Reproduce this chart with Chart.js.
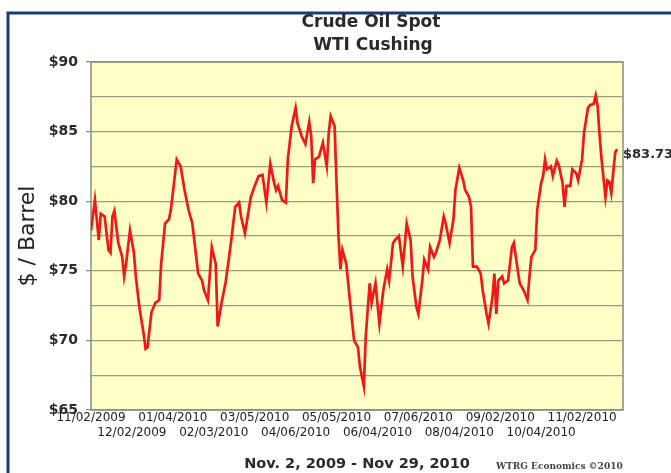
<!DOCTYPE html>
<html>
<head>
<meta charset="utf-8">
<script src="https://cdn.jsdelivr.net/npm/chart.js@4.4.0/dist/chart.umd.min.js"></script>
<style>
  html, body { margin: 0; padding: 0; background: #fff; }
</style>
</head>
<body>
<canvas id="oilChart" width="671" height="473"></canvas>
<script>
// trading day index (0 = 11/02/2009, 270 = 11/29/2010) and spot price
const tradeDay = [
    0, 2, 4, 5, 7, 9, 10, 11, 12, 14, 16, 17, 18, 20, 22, 23, 25, 27, 28, 29,
    31, 33, 35, 36, 38, 40, 41, 43, 44, 46, 48, 50, 52, 53, 55, 57, 58, 60, 62, 64,
    65, 67, 69, 70, 72, 74, 76, 77, 79, 81, 82, 84, 86, 88, 90, 92,
    94, 95, 96, 98, 100, 101, 103, 105, 106, 108, 110, 112, 113, 114, 115, 117, 119, 121, 122, 123,
    125, 126, 127, 128, 129, 131, 133, 135, 137, 138, 140, 141, 143, 144, 146, 148, 150, 152, 153, 155,
    156, 158, 160, 162, 164, 165, 167, 168, 170, 171, 173, 174, 176, 177, 179, 181, 182,
    184, 186, 187, 189, 191, 192, 194, 195, 196, 198, 200, 201, 203, 204, 206, 207, 208, 209, 211, 212,
    214, 216, 217, 218, 220, 222, 224, 225, 226, 228, 229, 231, 232, 233, 234, 236, 237, 239, 240, 242,
    243, 244, 246, 247, 249, 250, 252, 253, 255, 256, 258, 259, 260, 261, 262, 264, 265, 266, 267, 269,
    270
];
const spotPrice = [
    77.9, 80.1, 77.2, 79.1, 78.9, 76.5, 76.3, 78.9, 79.3, 77.0, 76.0, 74.6, 75.5, 77.9, 76.3, 74.6, 72.2, 70.5, 69.4, 69.5,
    72.0, 72.7, 72.9, 75.5, 78.4, 78.7, 79.4, 81.8, 83.0, 82.5, 80.8, 79.4, 78.4, 77.2, 74.8, 74.3, 73.6, 72.9, 76.7, 75.5,
    71.0, 72.7, 74.1, 75.1, 77.2, 79.6, 79.9, 78.9, 77.7, 79.4, 80.3, 81.1, 81.8, 81.9, 79.9, 82.7,
    81.3, 80.8, 81.1, 80.1, 79.9, 83.0, 85.4, 86.7, 85.6, 84.7, 84.1, 85.7, 84.7, 81.3, 83.0, 83.2, 84.2, 82.5, 84.9, 86.1,
    85.4, 81.3, 77.5, 75.1, 76.5, 75.5, 72.7, 70.0, 69.5, 68.1, 66.7, 70.3, 74.1, 72.7, 74.1, 71.2, 73.6, 75.1, 74.3, 77.0,
    77.2, 77.5, 75.3, 78.4, 77.2, 74.6, 72.4, 71.9, 74.3, 75.8, 75.1, 76.7, 76.0, 76.3, 77.2, 78.9, 78.4,
    77.0, 78.7, 80.8, 82.4, 81.5, 80.8, 80.3, 79.6, 75.3, 75.3, 74.8, 73.6, 71.9, 71.2, 73.1, 74.8, 71.9, 74.3, 74.6, 74.1,
    74.3, 76.7, 77.0, 76.0, 74.1, 73.6, 72.9, 74.6, 76.0, 76.5, 79.4, 81.3, 81.8, 83.0, 82.3, 82.5, 81.8, 82.9, 82.6, 81.3,
    79.6, 81.1, 81.1, 82.3, 82.0, 81.5, 83.0, 84.9, 86.7, 86.9, 87.0, 87.6, 86.8, 84.7, 83.0, 80.3, 81.5, 81.4, 80.6, 83.5,
    83.73
];

const tickDays = [0, 21, 42, 63, 84, 105, 126, 147, 168, 189, 210, 231, 252];
const tickLabels = ['11/02/2009', '12/02/2009', '01/04/2010', '02/03/2010', '03/05/2010', '04/06/2010', '05/05/2010',
    '06/04/2010', '07/06/2010', '08/04/2010', '09/02/2010', '10/04/2010', '11/02/2010'];

const lastPrice = '$83.73';
const dateRange = 'Nov. 2, 2009 - Nov 29, 2010';

const plotBackground = {
    id: 'plotBackground',
    beforeDraw(chart) {
        const { ctx, chartArea: a } = chart;
        ctx.save();
        ctx.fillStyle = '#ffffc6';
        ctx.fillRect(a.left, a.top, a.right - a.left, a.bottom - a.top);
        ctx.restore();
    },
    beforeDatasetsDraw(chart) {
        const { ctx, chartArea: a } = chart;
        ctx.save();
        ctx.strokeStyle = '#8a8a80';
        ctx.lineWidth = 1.5;
        ctx.strokeRect(a.left, a.top, a.right - a.left, a.bottom - a.top);
        ctx.restore();
    }
};

const extraText = {
    id: 'extraText',
    afterDraw(chart) {
        const ctx = chart.ctx;
        ctx.save();
        // dark frame of the picture
        ctx.strokeStyle = '#1c3a78';
        ctx.lineWidth = 3;
        ctx.beginPath();
        ctx.moveTo(8, 473);
        ctx.lineTo(8, 13);
        ctx.lineTo(671, 13);
        ctx.stroke();

        ctx.fillStyle = '#2a2a2a';
        ctx.textBaseline = 'middle';
        ctx.textAlign = 'center';
        ctx.font = 'bold 17px "DejaVu Sans"';
        ctx.fillText('Crude Oil Spot', 371, 23);
        ctx.fillText('WTI Cushing', 373, 46);

        ctx.font = 'bold 14.5px "DejaVu Sans"';
        ctx.fillText(dateRange, 357, 464);

        ctx.textAlign = 'left';
        ctx.font = 'bold 9px "DejaVu Serif"';
        ctx.fillStyle = '#444';
        ctx.fillText('WTRG Economics \u00a92010', 496, 467);

        ctx.fillStyle = '#2a2a2a';
        ctx.font = 'bold 13px "DejaVu Sans"';
        ctx.fillText(lastPrice, 623, 155);
        ctx.restore();
    }
};

const ctx = document.getElementById('oilChart').getContext('2d');
const oilChart = new Chart(ctx, {
    type: 'line',
    data: {
        datasets: [{
            label: 'WTI Cushing',
            data: tradeDay.map((d, i) => ({ x: d, y: spotPrice[i] })),
            borderColor: '#f21818',
            borderWidth: 2.7,
            pointRadius: 0,
            tension: 0,
            fill: false
        }]
    },
    options: {
        responsive: false,
        animation: false,
        devicePixelRatio: 1,
        layout: { padding: { left: 10, top: 62, right: 48, bottom: 33 } },
        plugins: {
            legend: { display: false },
            tooltip: { enabled: false }
        },
        scales: {
            x: {
                type: 'linear',
                min: 0,
                max: 273,
                afterBuildTicks: scale => { scale.ticks = tickDays.map(v => ({ value: v })); },
                afterFit: scale => { scale.height = 30; },
                grid: { display: false, drawTicks: false },
                border: { display: false },
                ticks: {
                    autoSkip: false,
                    maxRotation: 0,
                    minRotation: 0,
                    padding: 1,
                    color: '#222',
                    font: { family: 'DejaVu Sans', size: 12 },
                    callback: (value, index) => index % 2 === 0 ? tickLabels[index] : ['', tickLabels[index]]
                }
            },
            y: {
                min: 65,
                max: 90,
                afterFit: scale => { scale.width = 81; },
                grid: {
                    color: '#9c9c80',
                    lineWidth: 1.2,
                    tickLength: 5,
                    tickColor: c => (c.tick && c.tick.value % 5 === 0) ? '#888' : 'rgba(0,0,0,0)'
                },
                border: { display: false },
                ticks: {
                    stepSize: 2.5,
                    padding: 8,
                    color: '#2a2a2a',
                    font: { family: 'DejaVu Sans', size: 14, weight: 'bold' },
                    callback: v => v % 5 === 0 ? '$' + v : ''
                },
                title: {
                    display: true,
                    text: '$ / Barrel',
                    color: '#222',
                    font: { family: 'DejaVu Sans', size: 22 },
                    padding: { top: 5, bottom: 0 }
                }
            }
        }
    },
    plugins: [plotBackground, extraText]
});
</script>
</body>
</html>
